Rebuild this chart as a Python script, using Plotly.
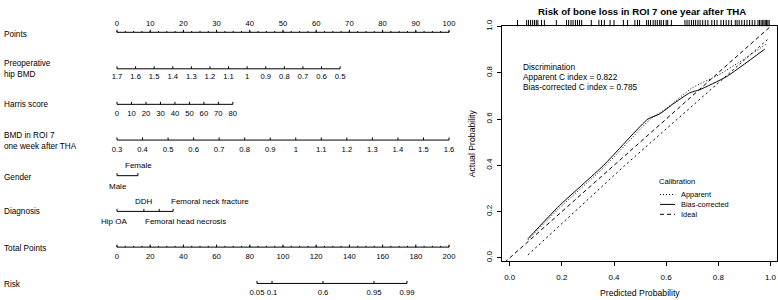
import plotly.graph_objects as go

W, H = 778, 300
FONT = "Liberation Sans, Arial, sans-serif"

# ---------------- Nomogram data ----------------
points_ticks = [0, 10, 20, 30, 40, 50, 60, 70, 80, 90, 100]
points_minor_step = 2.5

preop_bmd_ticks = [1.7, 1.6, 1.5, 1.4, 1.3, 1.2, 1.1, 1.0, 0.9, 0.8, 0.7, 0.6, 0.5]
preop_bmd_labels = ["1.7", "1.6", "1.5", "1.4", "1.3", "1.2", "1.1", "1", "0.9", "0.8", "0.7", "0.6", "0.5"]
preop_bmd_end_points = 67.2

harris_ticks = [0, 10, 20, 30, 40, 50, 60, 70, 80]
harris_labels = ["0", "10", "20", "30", "40", "50", "60", "70", "80"]
harris_end_points = 34.9

roi7_ticks = [0.3, 0.4, 0.5, 0.6, 0.7, 0.8, 0.9, 1.0, 1.1, 1.2, 1.3, 1.4, 1.5, 1.6]
roi7_labels = ["0.3", "0.4", "0.5", "0.6", "0.7", "0.8", "0.9", "1", "1.1", "1.2", "1.3", "1.4", "1.5", "1.6"]
roi7_end_points = 100.0

gender_levels = ["Male", "Female"]
gender_points = [0.0, 6.3]

diagnosis_levels = ["Hip OA", "DDH", "Femoral head necrosis", "Femoral neck fracture"]
diagnosis_points = [0.0, 8.1, 12.7, 16.9]

total_points_ticks = [0, 20, 40, 60, 80, 100, 120, 140, 160, 180, 200]
total_points_minor_step = 5

risk_labels = ["0.05", "0.1", "0.6", "0.95", "0.99"]
risk_total_points = [84.3, 93.4, 124.1, 154.8, 174.7]

row_names = ["Points", "Preoperative<br>hip BMD", "Harris score", "BMD in ROI 7<br>one week after THA",
             "Gender", "Diagnosis", "Total Points", "Risk"]

# ---------------- Calibration data ----------------
cal_ticks = [0.0, 0.2, 0.4, 0.6, 0.8, 1.0]
cal_tick_labels = ["0.0", "0.2", "0.4", "0.6", "0.8", "1.0"]

bias_x = [0.07, 0.19, 0.36, 0.53, 0.575, 0.625, 0.69, 0.729, 0.831, 0.978]
bias_y = [0.083, 0.225, 0.40, 0.60, 0.622, 0.664, 0.713, 0.727, 0.783, 0.902]

apparent_x = [0.07, 0.19, 0.36, 0.54, 0.60, 0.70, 0.80, 0.90, 0.985]
apparent_y = [0.078, 0.215, 0.39, 0.60, 0.645, 0.735, 0.79, 0.86, 0.925]

extra_x = [0.07, 0.44, 0.99]
extra_y = [0.013, 0.398, 0.945]

ideal_x = [-0.1, 1.1]
ideal_y = [-0.1, 1.1]

rug_values = [0.03, 0.065, 0.072, 0.08, 0.088, 0.095, 0.102, 0.108, 0.122, 0.133, 0.179,
              0.218, 0.226, 0.235, 0.243, 0.252, 0.26, 0.268, 0.276, 0.313, 0.342, 0.352, 0.363,
              0.385, 0.40, 0.436, 0.452, 0.48, 0.49, 0.498, 0.525, 0.532, 0.54, 0.55, 0.558,
              0.566, 0.575, 0.581, 0.59, 0.60, 0.606, 0.62, 0.672, 0.68, 0.688, 0.697, 0.705,
              0.713, 0.722, 0.73, 0.74, 0.75, 0.76, 0.775, 0.785, 0.795, 0.81, 0.82, 0.83, 0.84,
              0.85, 0.865, 0.872, 0.88, 0.89, 0.90, 0.91, 0.92, 0.93, 0.94, 0.952, 0.958, 0.964,
              0.97, 0.975, 0.98, 0.985, 0.99, 0.995]

c_index_apparent = 0.822
c_index_bias = 0.785

# ---------------- Helpers ----------------
def lin(v, first, last, end_pts):
    return (v - first) / (last - first) * end_pts

fig = go.Figure()
LINE = dict(color="black", width=1)
ann = []

# pixel geometry of the nomogram
PX0, PX_PER_PT = 117.0, 3.32
x_lo = -PX0 / PX_PER_PT
x_hi = (W - PX0) / PX_PER_PT

rows = {"points": 26, "preop": 63.5, "harris": 100, "roi": 136.7, "gender": 173.3,
        "diag": 210, "total": 246.7, "risk": 284}
TL = 2.6  # tick length in px (upward)


def axis_row(xs, row, xaxis="x", minor=None):
    lx = [min(xs), max(xs)]
    fig.add_trace(go.Scatter(x=lx, y=[row, row], mode="lines", line=LINE, xaxis=xaxis, yaxis="y",
                             hoverinfo="skip", showlegend=False))
    tx, ty = [], []
    for v in xs:
        tx += [v, v, None]
        ty += [row, row - TL, None]
    if minor is not None:
        for v in minor:
            tx += [v, v, None]
            ty += [row, row - TL / 2, None]
    fig.add_trace(go.Scatter(x=tx, y=ty, mode="lines", line=LINE, xaxis=xaxis, yaxis="y",
                             hoverinfo="skip", showlegend=False))


def text_row(xs, labels, ypix, xaxis="x", size=7.7):
    fig.add_trace(go.Scatter(x=xs, y=[ypix] * len(xs), mode="text", text=labels,
                             textposition="middle center", xaxis=xaxis, yaxis="y",
                             textfont=dict(family=FONT, size=size, color="black"),
                             hoverinfo="skip", showlegend=False, cliponaxis=False))


# Points
minor_pts = [i * points_minor_step for i in range(int(100 / points_minor_step) + 1)]
axis_row(points_ticks, rows["points"], minor=minor_pts)
text_row(points_ticks, [str(v) for v in points_ticks], rows["points"] - 8)

# Preoperative hip BMD
pb = [lin(v, preop_bmd_ticks[0], preop_bmd_ticks[-1], preop_bmd_end_points) for v in preop_bmd_ticks]
axis_row(pb, rows["preop"])
text_row(pb, preop_bmd_labels, rows["preop"] + 9)

# Harris score
hs = [lin(v, harris_ticks[0], harris_ticks[-1], harris_end_points) for v in harris_ticks]
axis_row(hs, rows["harris"])
text_row(hs, harris_labels, rows["harris"] + 10)

# ROI 7
rb = [lin(v, roi7_ticks[0], roi7_ticks[-1], roi7_end_points) for v in roi7_ticks]
axis_row(rb, rows["roi"])
text_row(rb, roi7_labels, rows["roi"] + 10.5)

# Gender
axis_row(gender_points, rows["gender"])
ann.append(dict(x=gender_points[0], y=rows["gender"] + 11, xref="x", yref="y", text=gender_levels[0],
                showarrow=False, xanchor="center", yanchor="middle", xshift=1,
                font=dict(family=FONT, size=8, color="black")))
ann.append(dict(x=gender_points[1], y=rows["gender"] - 10, xref="x", yref="y", text=gender_levels[1],
                showarrow=False, xanchor="center", yanchor="middle", xshift=1,
                font=dict(family=FONT, size=8, color="black")))

# Diagnosis
axis_row(diagnosis_points, rows["diag"])
diag_pos = [(rows["diag"] + 10, "center", -3), (rows["diag"] - 10, "center", 0),
            (rows["diag"] + 10, "left", -16), (rows["diag"] - 10, "left", -4)]
for lvl, p, (yy, anc, sh) in zip(diagnosis_levels, diagnosis_points, diag_pos):
    ann.append(dict(x=p, y=yy, xref="x", yref="y", text=lvl, showarrow=False, xanchor=anc,
                    yanchor="middle", xshift=sh, font=dict(family=FONT, size=8, color="black")))

# Total points (own axis, 0-200)
minor_tot = [i * total_points_minor_step for i in range(int(200 / total_points_minor_step) + 1)]
axis_row(total_points_ticks, rows["total"], xaxis="x3", minor=minor_tot)
text_row(total_points_ticks, [str(v) for v in total_points_ticks], rows["total"] + 10, xaxis="x3")

# Risk
axis_row(risk_total_points, rows["risk"], xaxis="x3")
text_row(risk_total_points, risk_labels, rows["risk"] + 9.5, xaxis="x3")

# Row names
name_rows = [28.3, 64, 100, 137.5, 175, 210, 248, 285]
for name, yy in zip(row_names, name_rows):
    ann.append(dict(x=2.0 / W, y=1 - yy / H, xref="paper", yref="paper", text=name, showarrow=False,
                    xanchor="left", yanchor="middle", align="left",
                    font=dict(family=FONT, size=8.2, color="black")))

# ---------------- Calibration plot ----------------
fig.add_trace(go.Scatter(x=ideal_x, y=ideal_y, mode="lines", xaxis="x2", yaxis="y2",
                         line=dict(color="black", width=1, dash="4px,3px"), showlegend=False, hoverinfo="skip"))
fig.add_trace(go.Scatter(x=extra_x, y=extra_y, mode="lines", xaxis="x2", yaxis="y2",
                         line=dict(color="black", width=1, dash="2px,3px"), showlegend=False, hoverinfo="skip"))
fig.add_trace(go.Scatter(x=apparent_x, y=apparent_y, mode="lines", xaxis="x2", yaxis="y2",
                         line=dict(color="black", width=1, dash="1px,2px", shape="spline", smoothing=0.5),
                         showlegend=False, hoverinfo="skip"))
fig.add_trace(go.Scatter(x=bias_x, y=bias_y, mode="lines", xaxis="x2", yaxis="y2",
                         line=dict(color="black", width=1, shape="spline", smoothing=0.5),
                         showlegend=False, hoverinfo="skip"))

rx, ry = [], []
for v in rug_values:
    rx += [v, v, None]
    ry += [0, 1, None]
fig.add_trace(go.Scatter(x=rx, y=ry, mode="lines", xaxis="x2", yaxis="y3",
                         line=dict(color="black", width=1), showlegend=False, hoverinfo="skip"))

# texts on calibration plot
def ptext(px, py, text, size=8.3, anchor="left", bold=False, angle=0):
    t = "<b>%s</b>" % text if bold else text
    ann.append(dict(x=px / W, y=1 - py / H, xref="paper", yref="paper", text=t, showarrow=False,
                    xanchor=anchor, yanchor="middle", textangle=angle,
                    font=dict(family=FONT, size=size, color="black")))

ptext(641.7, 4.5, "Risk of bone loss in ROI 7 one year after THA", size=9.7, anchor="center", bold=True)
ptext(520.5, 61.7, "Discrimination")
ptext(520.5, 71.9, "Apparent C index = %.3f" % c_index_apparent)
ptext(520.5, 82.7, "Bias-corrected C index = %.3f" % c_index_bias)
ptext(640, 294, "Predicted Probability", size=8.7, anchor="center")
ptext(472, 140, "Actual Probability", size=8.7, anchor="center", angle=-90)

# legend
ptext(657, 179.5, "Calibration", size=7.6)
leg = [("Apparent", "1px,2px", 192.7), ("Bias-corrected", None, 202.8), ("Ideal", "4px,3px", 213)]
shapes = []
for lab, dash, yy in leg:
    ptext(679, yy, lab, size=7.4)
    ln = dict(color="black", width=1)
    if dash:
        ln["dash"] = dash
    shapes.append(dict(type="line", xref="paper", yref="paper", x0=660 / W, x1=675 / W,
                       y0=1 - yy / H, y1=1 - yy / H, line=ln))

hidden = dict(visible=False, showgrid=False, zeroline=False)
cal_axis = dict(showgrid=False, zeroline=False, showline=True, mirror=True, linecolor="black",
                linewidth=1, ticks="outside", ticklen=4, tickwidth=1, tickcolor="black",
                tickvals=cal_ticks, ticktext=cal_tick_labels,
                tickfont=dict(family=FONT, size=8, color="black"))

fig.update_layout(
    width=W, height=H, margin=dict(l=0, r=0, t=0, b=0),
    paper_bgcolor="white", plot_bgcolor="rgba(0,0,0,0)",
    showlegend=False,
    xaxis=dict(domain=[0, 1], range=[x_lo, x_hi], anchor="y", **hidden),
    xaxis3=dict(domain=[0, 1], range=[2 * x_lo, 2 * x_hi], anchor="y", overlaying="x", **hidden),
    yaxis=dict(domain=[0, 1], range=[H, 0], anchor="x", **hidden),
    xaxis2=dict(domain=[502 / W, 777 / W], range=[-0.0295, 1.025], anchor="y2",
                ticklabelstandoff=4, **cal_axis),
    yaxis2=dict(domain=[39 / H, 280 / H], range=[-0.0135, 1.0], anchor="x2", tickangle=-90,
                ticklabelstandoff=2, **cal_axis),
    yaxis3=dict(domain=[280 / H, 287 / H], range=[0, 1], anchor="x2", **hidden),
    annotations=ann,
    shapes=shapes,
)

fig.write_html(
    "out.html",
    config={"displayModeBar": False},
    post_script="document.body.style.margin='0';document.body.style.padding='0';"
                "document.body.style.overflow='hidden';",
)
